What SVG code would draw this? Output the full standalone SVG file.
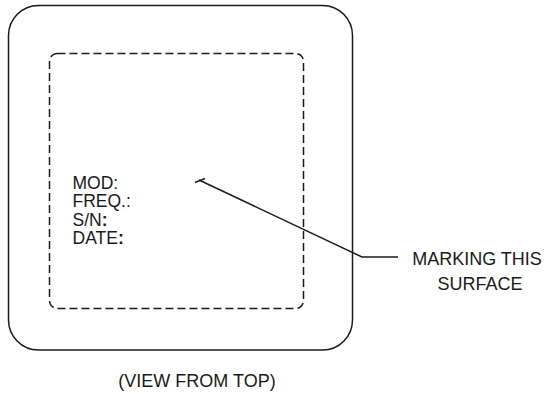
<svg xmlns="http://www.w3.org/2000/svg" width="549" height="394" viewBox="0 0 549 394">
<style>
.t{font-family:"Liberation Sans",Arial,sans-serif;font-size:18px;fill:#1a1a1a}
.s{font-size:17.5px}
.b{font-weight:bold}
.ln{fill:none;stroke:#1a1a1a;stroke-width:1.5}
</style>
<rect width="549" height="394" fill="#fff"/>
<g id="outer">
<rect class="ln" x="8.5" y="5.5" width="344" height="344.5" rx="30" ry="30"/>
</g>
<g id="marking-area">
<rect class="ln" x="49.5" y="53.5" width="254" height="255" rx="8" ry="8" stroke-dasharray="8 4"/>
<text class="t s" x="72.5" y="189">MOD:</text>
<text class="t s" x="72.5" y="207.3">FREQ.:</text>
<text class="t s" x="72.5" y="225.6">S/N<tspan class="b">:</tspan></text>
<text class="t s" x="72.5" y="243.9">DATE<tspan class="b">:</tspan></text>
</g>
<g id="connectors">
<polyline class="ln" points="199,180 362,257 398,257"/>
<line class="ln" x1="195" y1="182.5" x2="205" y2="178.5"/>
</g>
<g id="label">
<text class="t" x="477" y="265" text-anchor="middle">MARKING THIS</text>
<text class="t" x="480" y="290" text-anchor="middle">SURFACE</text>
</g>
<g id="caption">
<text class="t" x="197" y="387" text-anchor="middle">(VIEW FROM TOP)</text>
</g>
</svg>
